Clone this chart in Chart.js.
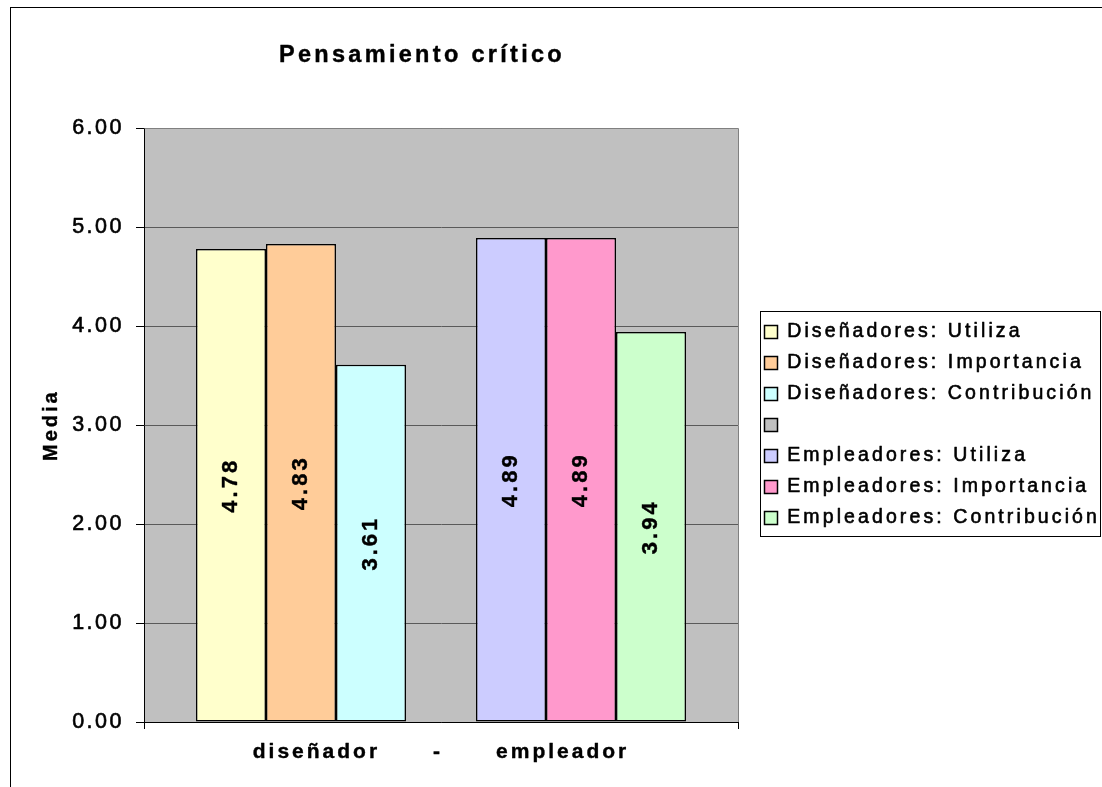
<!DOCTYPE html>
<html>
<head>
<meta charset="utf-8">
<script src="https://cdn.jsdelivr.net/npm/chart.js@4.4.1/dist/chart.umd.min.js"></script>
<style>
html, body { margin: 0; padding: 0; background: #ffffff; }
canvas { display: block; }
</style>
</head>
<body>
<canvas id="chart" width="1102" height="787"></canvas>
<script>
// ---- data ----
const chartTitle = 'Pensamiento crítico';
const yAxisTitle = 'Media';
const categories = ['diseñador      -      empleador'];
const seriesNames = [
  'Diseñadores: Utiliza',
  'Diseñadores: Importancia',
  'Diseñadores: Contribución',
  '',
  'Empleadores: Utiliza',
  'Empleadores: Importancia',
  'Empleadores: Contribución'
];
const seriesValues = [4.78, 4.83, 3.61, null, 4.89, 4.89, 3.94];
const yTickValues = [0, 1, 2, 3, 4, 5, 6];

// ---- styles ----
const seriesColors = ['#FFFFCC', '#FFCC99', '#CCFFFF', '#C0C0C0', '#CCCCFF', '#FF99CC', '#CCFFCC'];
const FONT = '"Liberation Sans", Arial, Helvetica, sans-serif';
const LEGEND_FONT_SIZE = 19.5;
const LEGEND_BOX = 13;
const LEGEND_PAD = 11.5;
const LEGEND_SHIFT = 15;
const LEGEND_W = 364 - LEGEND_SHIFT;
const TITLE_SHIFT = -19;

// Slightly heavier glyphs, like the upscaled spreadsheet rendering
(function () {
  const proto = CanvasRenderingContext2D.prototype;
  const origFillText = proto.fillText;
  proto.fillText = function (t, x, y, mw) {
    if (this._heavy) {
      this.save();
      this.lineWidth = this._heavy;
      this.strokeStyle = this.fillStyle;
      this.lineJoin = 'round';
      if (mw !== undefined) this.strokeText(t, x, y, mw); else this.strokeText(t, x, y);
      this.restore();
    }
    return mw !== undefined ? origFillText.call(this, t, x, y, mw) : origFillText.call(this, t, x, y);
  };
})();

const datasets = seriesNames.map((name, i) => ({
  label: name,
  data: [seriesValues[i]],
  backgroundColor: seriesColors[i],
  borderColor: '#000000',
  borderWidth: 1.5,
  borderSkipped: false,
  barPercentage: 1.0,
  categoryPercentage: 0.825
}));

function withSpacing(obj, fnName, spacing, heavy) {
  if (!obj || !obj[fnName] || obj['_ls_' + fnName]) return;
  const orig = obj[fnName];
  obj[fnName] = function () {
    const ctx = this.ctx;
    const prev = ctx.letterSpacing;
    ctx.letterSpacing = spacing;
    ctx._heavy = heavy;
    const r = orig.apply(this, arguments);
    ctx._heavy = 0;
    ctx.letterSpacing = prev || '0px';
    return r;
  };
  obj['_ls_' + fnName] = true;
}

const excelLook = {
  id: 'excelLook',
  beforeLayout(chart) {
    const lg = chart.legend;
    if (lg && !lg._fixedFit) {
      const fit = lg.fit;
      lg.fit = function () { fit.call(this); this.width = LEGEND_W; };
      lg._fixedFit = true;
    }
  },
  afterLayout(chart) {
    const lg = chart.legend;
    if (lg) { lg.left += LEGEND_SHIFT; lg.right = lg.left + lg.width; }
    const t = chart.titleBlock;
    if (t) { t.left += TITLE_SHIFT; t.right += TITLE_SHIFT; }
    withSpacing(chart.titleBlock, 'draw', '3.3px', 0.4);
    withSpacing(chart.legend, 'draw', '3.1px', 0.6);
    withSpacing(chart.scales.y, 'drawLabels', '2.5px', 0.6);
    withSpacing(chart.scales.y, 'drawTitle', '3px', 0.4);
    withSpacing(chart.scales.x, 'drawLabels', '3px', 0.4);
  },
  beforeDraw(chart) {
    const ctx = chart.ctx, a = chart.chartArea;
    ctx.save();
    ctx.fillStyle = '#ffffff';
    ctx.fillRect(0, 0, chart.width, chart.height);
    ctx.strokeStyle = '#000000';
    ctx.lineWidth = 1;
    ctx.strokeRect(10.5, 7.5, chart.width + 50, chart.height + 50);
    ctx.fillStyle = '#C0C0C0';
    ctx.fillRect(a.left, a.top, a.right - a.left, a.bottom - a.top);
    ctx.restore();
  },
  afterDatasetsDraw(chart) {
    const ctx = chart.ctx;
    chart.data.datasets.forEach((ds, di) => {
      const meta = chart.getDatasetMeta(di);
      meta.data.forEach((bar, j) => {
        const v = ds.data[j];
        if (v === null || v === undefined) return;
        const p = bar.getProps(['x', 'y', 'base'], true);
        ctx.save();
        ctx.letterSpacing = '3px';
        ctx._heavy = 0.4;
        ctx.translate(p.x, (p.y + p.base) / 2);
        ctx.rotate(-Math.PI / 2);
        ctx.font = 'bold 22px ' + FONT;
        ctx.fillStyle = '#000000';
        ctx.textAlign = 'center';
        ctx.textBaseline = 'middle';
        ctx.fillText(v.toFixed(2), 0, 0);
        ctx._heavy = 0;
        ctx.restore();
      });
    });
  },
  afterDraw(chart) {
    const ctx = chart.ctx, a = chart.chartArea;
    ctx.save();
    ctx.letterSpacing = '0px';
    // plot area top/right border
    ctx.strokeStyle = '#808080';
    ctx.lineWidth = 1;
    ctx.beginPath();
    ctx.moveTo(Math.round(a.left) + 0.5, Math.round(a.top) + 0.5);
    ctx.lineTo(Math.round(a.right) + 0.5, Math.round(a.top) + 0.5);
    ctx.lineTo(Math.round(a.right) + 0.5, Math.round(a.bottom));
    ctx.stroke();
    // legend frame
    const lg = chart.legend;
    if (lg) {
      const pad = LEGEND_PAD;
      const itemH = Math.max(LEGEND_FONT_SIZE, LEGEND_BOX);
      const n = chart.data.datasets.length;
      const colH = n * (itemH + pad);
      const y0 = (lg.top + pad + lg.bottom - colH) / 2;
      const top = Math.round(y0 - pad) + 0.5;
      const bottom = Math.round(y0 + colH - pad + 8) + 0.5;
      const left = Math.round(lg.left + 7) + 0.5;
      const right = chart.width - 2 + 0.5;
      ctx.strokeStyle = '#000000';
      ctx.strokeRect(left, top, right - left, bottom - top);
    }
    ctx.restore();
  }
};

new Chart(document.getElementById('chart'), {
  type: 'bar',
  data: { labels: categories, datasets: datasets },
  plugins: [excelLook],
  options: {
    responsive: false,
    animation: false,
    color: '#000000',
    layout: { padding: { left: 0, right: LEGEND_SHIFT, top: 0, bottom: 0 } },
    plugins: {
      title: {
        display: true,
        text: chartTitle,
        fullSize: false,
        color: '#000000',
        font: { family: FONT, size: 23.5, weight: 'bold', lineHeight: 1.2 },
        padding: { top: 41, bottom: 59 }
      },
      legend: {
        display: true,
        position: 'right',
        fullSize: false,
        align: 'center',
        labels: {
          color: '#000000',
          font: { family: FONT, size: LEGEND_FONT_SIZE },
          boxWidth: LEGEND_BOX,
          boxHeight: LEGEND_BOX,
          padding: LEGEND_PAD
        }
      },
      tooltip: { enabled: false }
    },
    scales: {
      x: {
        offset: true,
        grid: {
          display: true,
          drawOnChartArea: false,
          drawTicks: true,
          tickLength: 7,
          tickColor: '#000000',
          color: '#000000'
        },
        border: { display: true, color: '#000000', width: 1 },
        ticks: {
          color: '#000000',
          font: { family: FONT, size: 21, weight: 'bold' },
          padding: 11,
          maxRotation: 0,
          minRotation: 0,
          autoSkip: false
        },
        afterFit(s) { s.height = 65; }
      },
      y: {
        min: 0,
        max: 6,
        afterBuildTicks(s) { s.ticks = yTickValues.map(v => ({ value: v })); },
        grid: {
          color: '#5a5a5a',
          lineWidth: 1,
          drawTicks: true,
          tickLength: 8,
          tickColor: '#000000'
        },
        border: { display: true, color: '#000000', width: 1 },
        ticks: {
          color: '#000000',
          font: { family: FONT, size: 21.5 },
          padding: 12,
          callback: v => Number(v).toFixed(2)
        },
        title: {
          display: true,
          text: yAxisTitle,
          color: '#000000',
          font: { family: FONT, size: 20, weight: 'bold', lineHeight: 1.2 },
          padding: { top: 39, bottom: 0 }
        },
        afterFit(s) { s.width = 144; }
      }
    }
  }
});
</script>
</body>
</html>
